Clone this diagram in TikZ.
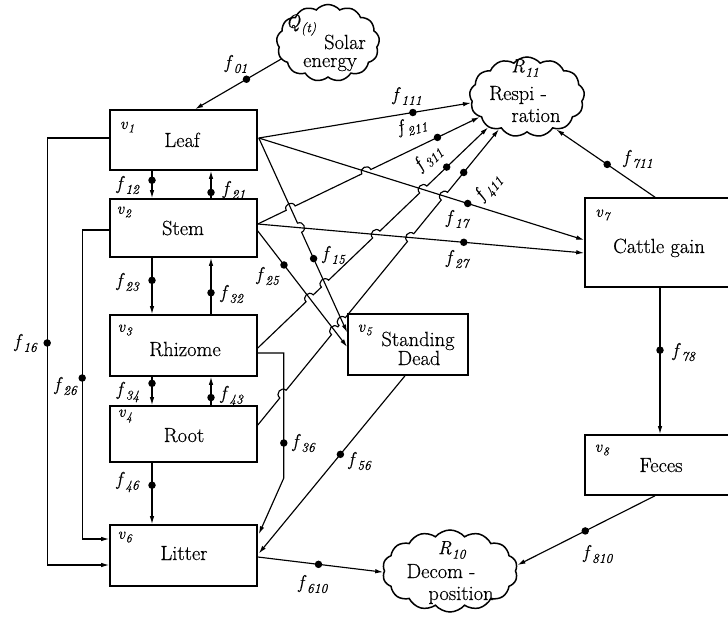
\documentclass[tikz,border=0pt]{standalone}
\usepackage{fontspec}
\setmainfont{Latin Modern Roman}[FakeBold=0.4]
\usetikzlibrary{shapes.symbols,arrows.meta,calc,intersections}
\newcommand\mkhop[4]{%
  \coordinate (#1a) at ($(#2)!5pt!(#3)$);
  \coordinate (#1b) at ($(#2)!5pt!(#4)$);
  \coordinate (#1c) at ($(#1a)!6.5pt!90:(#2)$);
  \coordinate (#1d) at ($(#1b)!6.5pt!-90:(#2)$);
}
\newcommand\fsub[2]{\textit{#1}\kern0.5pt\raisebox{-4.5pt}{\fontsize{13.5}{13.5}\selectfont\textit{#2}}}
\newcommand\vsub[1]{\textit{v}\kern0.3pt\raisebox{-3.5pt}{\fontsize{12}{12}\selectfont\textit{#1}}}
\begin{document}
\begin{tikzpicture}[x=1pt,y=-1pt,
  box/.style={draw, line width=1.6pt, inner sep=0pt},
  txt/.style={font=\fontsize{20.5}{22}\selectfont, inner sep=0pt, anchor=base},
  vlab/.style={font=\fontsize{16.5}{18}\selectfont, inner sep=0pt},
  flab/.style={font=\fontsize{19}{20}\selectfont, inner sep=0pt},
  dot/.style={circle, fill=black, inner sep=0pt, minimum size=7.5pt},
  flow/.style={line width=1.15pt, -{Latex[length=8pt,width=4.5pt]}},
  cl/.style={cloud, draw, line width=1.5pt, cloud puffs=13, cloud puff arc=100, cloud ignores aspect, inner sep=0pt}
]
\useasboundingbox (0,0) rectangle (728,620);
\clip (0,0) rectangle (728,620);

% boxes
\node[box, minimum width=147pt, minimum height=60pt] (leaf) at (183.5,140) {};
\node[box, minimum width=147pt, minimum height=58pt] (stem) at (183.5,228) {};
\node[box, minimum width=147pt, minimum height=61pt] (rhizome) at (183.5,345.5) {};
\node[box, minimum width=147pt, minimum height=56pt] (root) at (183.5,434) {};
\node[box, minimum width=147pt, minimum height=61pt] (litter) at (183.5,555.5) {};
\node[box, minimum width=120pt, minimum height=61pt] (sd) at (408,344.5) {};
\node[box, minimum width=155pt, minimum height=89pt] (cattle) at (662.5,242.5) {};
\node[box, minimum width=155pt, minimum height=60pt] (feces) at (662.5,465) {};

% clouds
\node[cl, minimum width=103pt, minimum height=77pt] (solar) at (328,43) {};
\node[cl, minimum width=115pt, minimum height=80pt] (resp) at (527,97) {};
\node[cl, minimum width=135pt, minimum height=82pt, cloud puffs=14] (decomp) at (450,571) {};

% texts
\node[txt] (tleaf) at (182,147) {Leaf};
\node[txt] (tstem) at (183,235) {Stem};
\node[txt] (trhi) at (185,356) {Rhizome};
\node[txt] (troot) at (184,442) {Root};
\node[txt] (tlit) at (184,560) {Litter};
\node[txt] (tsd1) at (418,346) {Standing};
\node[txt] (tsd2) at (419,365) {Dead};
\node[txt] (tcat) at (659,253) {Cattle gain};
\node[txt] (tfec) at (661,472) {Feces};
\node[txt] (tsol1) at (345,49) {Solar};
\node[txt] (tsol2) at (330,67) {energy};
\node[txt] (tres1) at (518,100) {Respi -};
\node[txt] (tres2) at (536,122) {ration};
\node[txt] (tdec1) at (441,578) {Decom -};
\node[txt] (tdec2) at (461,600) {position};
\node[flab] (tq) at (301,25) {\fsub{Q}{(t)}};
\node[flab] (tr11) at (525,68) {\fsub{R}{11}};
\node[flab] (tr10) at (452,550) {\fsub{R}{10}};

% v labels
\node[vlab] (v1) at (127,127) {\vsub{1}};
\node[vlab] (v2) at (124,212) {\vsub{2}};
\node[vlab] (v3) at (125,330) {\vsub{3}};
\node[vlab] (v4) at (125,416) {\vsub{4}};
\node[vlab] (v5) at (365,330) {\vsub{5}};
\node[vlab] (v6) at (125,537) {\vsub{6}};
\node[vlab] (v7) at (603,215) {\vsub{7}};
\node[vlab] (v8) at (602,450) {\vsub{8}};

% anchor coordinates
\coordinate (leafE) at ($(leaf.east)+(1,-2)$);
\coordinate (stemE) at ($(stem.east)+(0,-4)$);
\coordinate (stemE2) at ($(stem.east)+(0,3)$);
\coordinate (rhiE) at ($(rhizome.east)+(0,2.5)$);
\coordinate (rhiE2) at ($(rhizome.east)+(0,7.5)$);
\coordinate (rootE) at ($(root.east)+(0,-9)$);
\coordinate (sdA) at ($(sd.west)+(0,-12)$);
\coordinate (sdB) at ($(sd.west)+(0,2.5)$);
\coordinate (catA) at ($(cattle.west)+(0,-2.5)$);
\coordinate (catB) at ($(cattle.west)+(0,10.5)$);
\coordinate (r111) at (resp.186);
\coordinate (r211) at (resp.203);
\coordinate (r311) at (resp.218);
\coordinate (r411) at (resp.229);
\coordinate (r711) at (resp.312);

% paths for crossings
\path[name path=P15] (leafE) -- (sdA);
\path[name path=P17] (leafE) -- (catA);
\path[name path=P25] (stemE2) -- (sdB);
\path[name path=P27] (stemE) -- (catB);
\path[name path=P36] (283,353) -- (283,478);
\path[name path=H211] (stemE) -- (r211);
\path[name path=H311] (rhiE) -- (r311);
\path[name path=H411] (rootE) -- (r411);
\path[name intersections={of=H211 and P15, by=a1}];
\path[name intersections={of=H211 and P17, by=a2}];
\path[name intersections={of=H311 and P25, by=b1}];
\path[name intersections={of=H311 and P15, by=b2}];
\path[name intersections={of=H311 and P27, by=b3}];
\path[name intersections={of=H311 and P17, by=b4}];
\path[name intersections={of=H411 and P36, by=c1}];
\path[name intersections={of=H411 and P25, by=c2}];
\path[name intersections={of=H411 and P15, by=c3}];
\path[name intersections={of=H411 and P27, by=c4}];
\path[name intersections={of=H411 and P17, by=c5}];
\path[name intersections={of=P15 and P27, by=e1}];
\mkhop{ha1}{a1}{stemE}{r211}
\mkhop{ha2}{a2}{stemE}{r211}
\mkhop{hb1}{b1}{rhiE}{r311}
\mkhop{hb2}{b2}{rhiE}{r311}
\mkhop{hb3}{b3}{rhiE}{r311}
\mkhop{hb4}{b4}{rhiE}{r311}
\mkhop{hc1}{c1}{rootE}{r411}
\mkhop{hc2}{c2}{rootE}{r411}
\mkhop{hc3}{c3}{rootE}{r411}
\mkhop{hc4}{c4}{rootE}{r411}
\mkhop{hc5}{c5}{rootE}{r411}
\mkhop{he1}{e1}{leafE}{sdA}

% connectors
\draw[flow] (solar.199) -- ($(leaf.north)+(11.5,0)$) node[dot,pos=0.4] (d01) {};
\draw[flow] (leafE) -- (r111) node[dot,pos=0.726] (d111) {};
\draw[flow] (leafE) -- (catA) node[dot,pos=0.642] (d17) {};
\draw[flow] (stemE) -- (catB) node[dot,pos=0.631] (d27) {};
\draw[flow] (stemE2) -- (sdB) node[dot,pos=0.293] (d25) {};
\draw[flow] (leafE) -- (he1a) .. controls (he1c) and (he1d) .. (he1b) -- (sdA);
\node[dot] (d15) at ($(leafE)!0.62!(sdA)$) {};
\draw[flow] (stemE) -- (ha1a) .. controls (ha1c) and (ha1d) .. (ha1b)
  -- (ha2a) .. controls (ha2c) and (ha2d) .. (ha2b) -- (r211);
\node[dot] (d211) at ($(stemE)!0.81!(r211)$) {};
\draw[flow] (rhiE) -- (hb1a) .. controls (hb1c) and (hb1d) .. (hb1b)
  -- (hb2a) .. controls (hb2c) and (hb2d) .. (hb2b)
  -- (hb3a) .. controls (hb3c) and (hb3d) .. (hb3b)
  -- (hb4a) .. controls (hb4c) and (hb4d) .. (hb4b) -- (r311);
\node[dot] (d311) at ($(rhiE)!0.82!(r311)$) {};
\draw[flow] (rootE) -- (hc1a) .. controls (hc1c) and (hc1d) .. (hc1b)
  -- (hc2a) .. controls (hc2c) and (hc2d) .. (hc2b)
  -- (hc3a) .. controls (hc3c) and (hc3d) .. (hc3b)
  -- (hc4a) .. controls (hc4c) and (hc4d) .. (hc4b)
  -- (hc5a) .. controls (hc5c) and (hc5d) .. (hc5b) -- (r411);
\node[dot] (d411) at ($(rootE)!0.854!(r411)$) {};
\draw[flow] ($(cattle.north)+(-7.5,0)$) -- (r711) node[dot,pos=0.484] (d711) {};
\draw[flow] ($(cattle.south)+(-2.5,0)$) -- ($(feces.north)+(-2.5,0)$) node[dot,pos=0.426] (d78) {};
\draw[flow] ($(feces.south)+(-7.5,0)$) -- (decomp.5) node[dot,pos=0.507] (d810) {};
\draw[flow] ($(litter.east)+(0,1.5)$) -- (decomp.181) node[dot,pos=0.484] (d610) {};
\draw[flow] ($(sd.south)+(-3,0)$) -- ($(litter.east)+(1,-2)$) node[dot,pos=0.442] (d56) {};
\draw[flow] (rhiE2) -- ++(26,0) -- ++(0,125) node[dot,pos=0.72] (d36) {} -- ($(litter.north east)+(1,10)$);
\draw[flow] ($(leaf.west)+(0,-2)$) -- ++(-62,0) -- ($(litter.west)+(-62,9.5)$) node[dot,pos=0.48] (d16) {} -- ($(litter.west)+(0,9.5)$);
\draw[flow] ($(stem.west)+(0,2)$) -- ++(-27,0) -- ($(litter.west)+(-27,-16.5)$) node[dot,pos=0.479] (d26) {} -- ($(litter.west)+(0,-16.5)$);

% vertical flows
\draw[flow] ($(leaf.south)+(-31.5,0)$) -- ($(stem.north)+(-31.5,0)$) node[dot,pos=0.345] (d12) {};
\draw[flow] ($(stem.north)+(27.5,0)$) -- ($(leaf.south)+(27.5,0)$) node[dot,pos=0.21] (d21) {};
\draw[flow] ($(stem.south)+(-31.5,0)$) -- ($(rhizome.north)+(-31.5,0)$) node[dot,pos=0.40] (d23) {};
\draw[flow] ($(rhizome.north)+(27.5,0)$) -- ($(stem.south)+(27.5,0)$) node[dot,pos=0.38] (d32) {};
\draw[flow] ($(rhizome.south)+(-31.5,0)$) -- ($(root.north)+(-31.5,0)$) node[dot,pos=0.23] (d34) {};
\draw[flow] ($(root.north)+(27.5,0)$) -- ($(rhizome.south)+(27.5,0)$) node[dot,pos=0.27] (d43) {};
\draw[flow] ($(root.south)+(-31.5,0)$) -- ($(litter.north)+(-31.5,0)$) node[dot,pos=0.365] (d46) {};

% flow labels
\node[flab] (l01) at (236,64) {\fsub{f}{01}};
\node[flab] (l111) at (407,96) {\fsub{f}{111}};
\node[flab, rotate=15] (l211) at (412,126) {\fsub{f}{211}};
\node[flab, rotate=44] (l311) at (428,158) {\fsub{f}{311}};
\node[flab, rotate=51] (l411) at (489,188) {\fsub{f}{411}};
\node[flab] (l17) at (458,219) {\fsub{f}{17}};
\node[flab] (l27) at (458,259) {\fsub{f}{27}};
\node[flab] (l15) at (334,255) {\fsub{f}{15}};
\node[flab] (l25) at (268,276) {\fsub{f}{25}};
\node[flab] (l711) at (638,159) {\fsub{f}{711}};
\node[flab] (l78) at (684,352) {\fsub{f}{78}};
\node[flab] (l810) at (598,554) {\fsub{f}{810}};
\node[flab] (l610) at (313,584) {\fsub{f}{610}};
\node[flab] (l56) at (360,461) {\fsub{f}{56}};
\node[flab] (l36) at (304,443) {\fsub{f}{36}};
\node[flab] (l12) at (128,185) {\fsub{f}{12}};
\node[flab] (l21) at (234,190) {\fsub{f}{21}};
\node[flab] (l23) at (128,282) {\fsub{f}{23}};
\node[flab] (l32) at (232,294) {\fsub{f}{32}};
\node[flab] (l34) at (128,392) {\fsub{f}{34}};
\node[flab] (l43) at (232,396) {\fsub{f}{43}};
\node[flab] (l46) at (128,482) {\fsub{f}{46}};
\node[flab] (l16) at (26,343) {\fsub{f}{16}};
\node[flab] (l26) at (66,386) {\fsub{f}{26}};
\end{tikzpicture}
\end{document}
